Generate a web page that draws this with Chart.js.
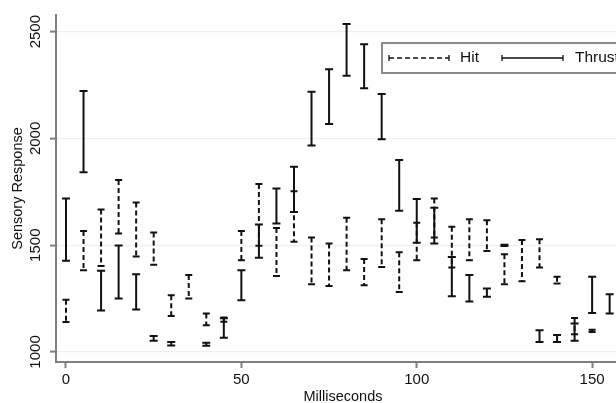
<!DOCTYPE html>
<html>
<head>
<meta charset="utf-8">
<script src="https://cdn.jsdelivr.net/npm/chart.js@4.4.1/dist/chart.umd.min.js"></script>
<style>
  html, body { margin: 0; padding: 0; background: #fff; overflow: hidden; }
  #wrap { width: 640px; height: 403px; }
</style>
</head>
<body>
<div id="wrap"><canvas id="chart" width="640" height="403"></canvas></div>
<script>
// milliseconds and the low/high ends of each range bar
const ms = [0, 5, 10, 15, 20, 25, 30, 35, 40, 45, 50, 55, 60, 65, 70, 75,
            80, 85, 90, 95, 100, 105, 110, 115, 120, 125, 130, 135, 140, 145, 150, 155];
const hitLow  = [1140, 1383, 1402, 1555, 1447, 1408, 1169, 1250, 1125, 1141, 1430, 1497, 1356, 1516, 1317, 1309,
                 1383, 1313, 1398, 1281, 1430, 1536, 1396, 1430, 1473, 1317, 1331, 1396, 1321, 1083, 1094, null];
const hitHigh = [1245, 1567, 1667, 1805, 1700, 1560, 1266, 1360, 1180, 1161, 1567, 1786, 1581, 1753, 1536, 1508,
                 1628, 1435, 1622, 1467, 1605, 1719, 1586, 1622, 1617, 1458, 1524, 1528, 1352, 1159, 1104, null];
const thrustLow  = [1427, 1842, 1194, 1250, 1199, 1052, 1030, null, 1029, 1067, 1242, 1441, 1602, 1656, 1967, 2067,
                    2294, 2235, 1996, 1661, 1511, 1508, 1261, 1236, 1258, 1496, null, 1047, 1047, 1052, 1183, 1180];
const thrustHigh = [1719, 2222, 1380, 1499, 1364, 1075, 1047, null, 1043, 1158, 1383, 1597, 1766, 1867, 2219, 2324,
                    2536, 2441, 2208, 1899, 1716, 1675, 1445, 1361, 1297, 1502, null, 1102, 1080, 1133, 1352, 1270];
const yTicks = [1000, 1500, 2000, 2500];
const xTicks = [0, 50, 100, 150];
const seriesNames = ['Hit', 'Thrust'];

const FONT = 'Liberation Sans, Arial, Helvetica, sans-serif';
const AXIS_GREY = '#7f7f7f';

function buildData(lo, hi) {
    return ms.map((m, i) => ({ x: m, y: hi[i], lo: lo[i] })).filter(p => p.y !== null);
}

// draws the range bars with caps, using the chart's scales
const rangeBars = {
    id: 'rangeBars',
    afterDatasetsDraw(chart) {
        const ctx = chart.ctx;
        const xs = chart.scales.x, ys = chart.scales.y;
        ctx.save();
        chart.data.datasets.forEach(ds => {
            ctx.strokeStyle = '#111';
            ctx.lineWidth = 2;
            ds.data.forEach(p => {
                const px = xs.getPixelForValue(p.x);
                const pTop = ys.getPixelForValue(p.y);
                const pBot = ys.getPixelForValue(p.lo);
                const half = ds.capHalf;
                ctx.setLineDash(ds.dash);
                ctx.beginPath();
                ctx.moveTo(px, pTop);
                ctx.lineTo(px, pBot);
                ctx.stroke();
                ctx.setLineDash([]);
                ctx.beginPath();
                ctx.moveTo(px - half, pTop);
                ctx.lineTo(px + half, pTop);
                ctx.moveTo(px - half, pBot);
                ctx.lineTo(px + half, pBot);
                ctx.stroke();
            });
        });
        ctx.restore();
    },
    afterDraw(chart) {
        // legend box placed inside the plot, top right
        const ctx = chart.ctx;
        ctx.save();
        ctx.fillStyle = '#fff';
        ctx.strokeStyle = '#8a8a8a';
        ctx.lineWidth = 2;
        ctx.fillRect(382, 43, 246, 30);
        ctx.strokeRect(382, 43, 246, 30);

        const y = 58;
        const samples = [[389, 449, [5, 3]], [502, 563, []]];
        ctx.strokeStyle = '#111';
        ctx.lineWidth = 1.3;
        samples.forEach(s => {
            ctx.setLineDash(s[2]);
            ctx.beginPath();
            ctx.moveTo(s[0], y);
            ctx.lineTo(s[1], y);
            ctx.stroke();
            ctx.setLineDash([]);
            ctx.beginPath();
            ctx.moveTo(s[0], y - 3);
            ctx.lineTo(s[0], y + 3);
            ctx.moveTo(s[1], y - 3);
            ctx.lineTo(s[1], y + 3);
            ctx.stroke();
        });
        ctx.fillStyle = '#111';
        ctx.font = '15.5px ' + FONT;
        ctx.textBaseline = 'middle';
        ctx.fillText(seriesNames[0], 460, y);
        ctx.fillText(seriesNames[1], 575, y);
        ctx.restore();
    }
};

new Chart(document.getElementById('chart'), {
    type: 'scatter',
    data: {
        datasets: [
            { label: seriesNames[0], data: buildData(hitLow, hitHigh), dash: [5, 3], capHalf: 3.5, pointRadius: 0, showLine: false },
            { label: seriesNames[1], data: buildData(thrustLow, thrustHigh), dash: [], capHalf: 4, pointRadius: 0, showLine: false }
        ]
    },
    options: {
        responsive: false,
        animation: false,
        layout: { padding: { top: 15, right: 10, left: 0, bottom: 0 } },
        plugins: { legend: { display: false }, tooltip: { enabled: false } },
        scales: {
            x: {
                type: 'linear',
                min: -2.85,
                max: 160.8,
                afterBuildTicks: s => { s.ticks = xTicks.map(v => ({ value: v })); },
                afterFit: s => { s.height = 41; },
                grid: { drawOnChartArea: false, tickLength: 6, tickColor: AXIS_GREY, tickWidth: 2 },
                border: { color: AXIS_GREY, width: 2 },
                ticks: { color: '#111', font: { family: FONT, size: 15 }, padding: 3, maxRotation: 0,
                         callback: v => String(v) },
                title: { display: true, text: 'Milliseconds', color: '#111',
                         font: { family: FONT, size: 14.5, lineHeight: 1 }, padding: { top: 0, bottom: -1 } }
            },
            y: {
                min: 953,
                max: 2578,
                afterBuildTicks: s => { s.ticks = yTicks.map(v => ({ value: v })); },
                afterFit: s => { s.width = 56; },
                grid: { color: '#e9f1f1', lineWidth: 1.2, tickLength: 6, tickColor: AXIS_GREY, tickWidth: 2 },
                border: { color: AXIS_GREY, width: 2 },
                ticks: { color: '#111', font: { family: FONT, size: 15 }, minRotation: 90, maxRotation: 90,
                         crossAlign: 'center', padding: -3, callback: v => String(v) },
                title: { display: true, text: 'Sensory Response', color: '#111',
                         font: { family: FONT, size: 14.5, lineHeight: 1 }, padding: { top: 11, bottom: 0 } }
            }
        }
    },
    plugins: [rangeBars]
});
</script>
</body>
</html>
